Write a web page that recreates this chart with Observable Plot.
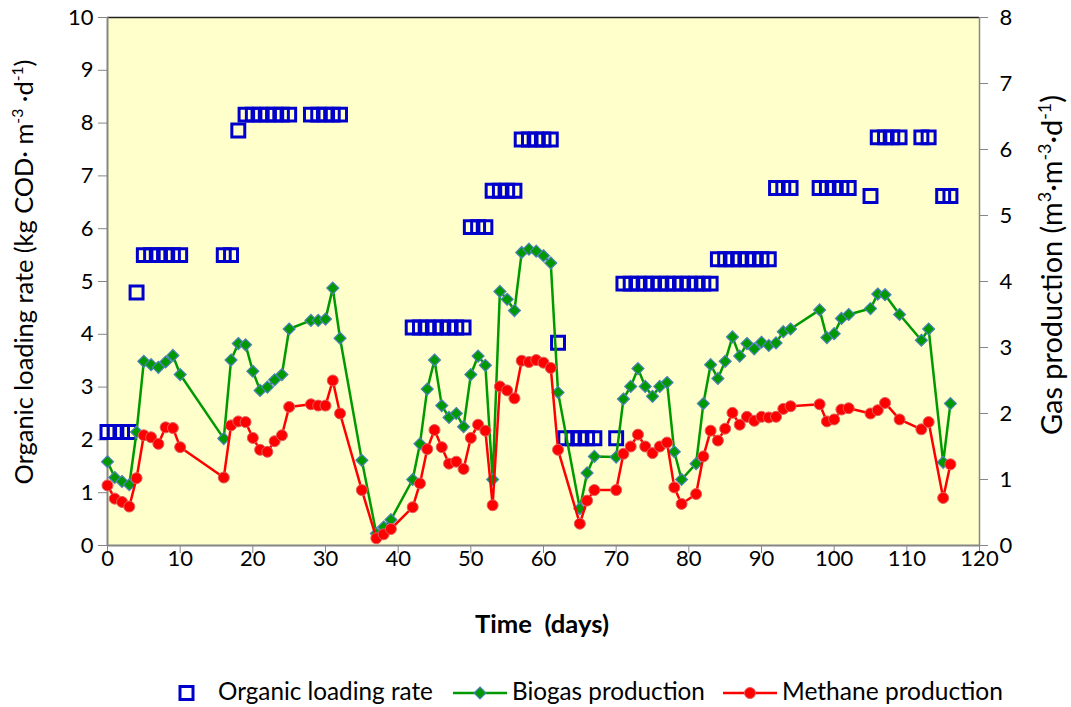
<!DOCTYPE html>
<html><head><meta charset="utf-8">
<script src="https://cdn.jsdelivr.net/npm/d3@7"></script>
<script src="https://cdn.jsdelivr.net/npm/@observablehq/plot@0.6"></script>
<style>
body{margin:0;background:#fff;font-family:Lato, sans-serif;}
#wrap{position:relative;width:1071px;height:707px;overflow:hidden;}
#chart{position:absolute;left:0;top:0;}
#legend{position:absolute;left:0;top:671px;}
</style></head><body><div id="wrap"><div id="chart"></div><div id="legend"></div></div>
<script>
// ---- data ----
const olrDay = [0,1,2,3,4,5,6,7,8,9,10,16,17,18,19,20,21,22,23,24,25,28,29,30,31,32,
  42,43,44,45,46,47,48,49,50,51,52,53,54,55,56,57,58,59,60,61,62,63,64,65,66,67,70,
  71,72,73,74,75,76,77,78,79,80,81,82,83,84,85,86,87,88,89,90,91,92,93,94,
  98,99,100,101,102,105,106,107,108,109,112,113,115,116];
const olrValue = [2.15,2.15,2.15,2.15,4.79,5.5,5.5,5.5,5.5,5.5,5.5,5.5,5.5,7.86,8.16,8.16,8.16,8.16,8.16,8.16,8.16,8.16,8.16,8.16,8.16,8.16,
  4.13,4.13,4.13,4.13,4.13,4.13,4.13,4.13,6.03,6.03,6.03,6.72,6.72,6.72,6.72,7.69,7.69,7.69,7.69,7.69,3.84,2.03,2.03,2.03,2.03,2.03,2.03,
  4.96,4.96,4.96,4.96,4.96,4.96,4.96,4.96,4.96,4.96,4.96,4.96,4.96,5.42,5.42,5.42,5.42,5.42,5.42,5.42,5.42,6.77,6.77,6.77,
  6.77,6.77,6.77,6.77,6.77,6.62,7.73,7.73,7.73,7.73,7.73,7.73,6.62,6.62];
const gasDay = [0,1,2,3,4,5,6,7,8,9,10,16,17,18,19,20,21,22,23,24,25,28,29,30,31,32,35,37,38,39,
  42,43,44,45,46,47,48,49,50,51,52,53,54,55,56,57,58,59,60,61,62,65,66,67,
  70,71,72,73,74,75,76,77,78,79,81,82,83,84,85,86,87,88,89,90,91,92,93,94,
  98,99,100,101,102,105,106,107,109,112,113,115,116];
const biogas = [1.27,1.03,0.97,0.92,1.72,2.79,2.74,2.70,2.78,2.88,2.59,
  1.62,2.81,3.06,3.04,2.64,2.35,2.40,2.51,2.59,3.28,
  3.41,3.41,3.43,3.90,3.14,
  1.29,0.18,0.28,0.39,
  1.00,1.54,2.37,2.81,2.12,1.94,2.00,1.80,2.59,2.87,2.73,1.00,3.85,3.73,3.56,4.44,4.49,4.46,4.39,4.28,2.32,
  0.56,1.10,1.35,
  1.34,2.22,2.41,2.68,2.41,2.26,2.41,2.47,1.42,1.00,
  1.24,2.15,2.74,2.53,2.79,3.16,2.87,3.06,2.98,3.08,3.03,3.07,3.24,3.28,
  3.57,3.15,3.21,3.44,3.50,
  3.59,3.81,3.80,3.50,
  3.11,3.28,1.26,2.15];
const methane = [0.91,0.71,0.66,0.59,1.02,1.67,1.64,1.54,1.79,1.78,1.49,
  1.03,1.82,1.88,1.87,1.63,1.45,1.42,1.58,1.67,2.10,
  2.14,2.12,2.12,2.50,2.00,
  0.84,0.11,0.17,0.25,
  0.58,0.94,1.46,1.75,1.49,1.24,1.27,1.16,1.63,1.83,1.74,0.61,2.41,2.35,2.23,2.80,2.78,2.81,2.77,2.69,1.45,
  0.33,0.68,0.84,
  0.84,1.39,1.50,1.68,1.50,1.40,1.50,1.56,0.88,0.63,
  0.78,1.35,1.74,1.59,1.77,2.01,1.83,1.95,1.89,1.95,1.94,1.95,2.07,2.11,
  2.14,1.88,1.91,2.06,2.08,
  2.00,2.05,2.16,1.91,
  1.76,1.87,0.72,1.23];
const xTicks = [0,10,20,30,40,50,60,70,80,90,100,110,120];
const leftTicks = [0,1,2,3,4,5,6,7,8,9,10];
const rightTicks = [0,1,2,3,4,5,6,7,8];
const leftMax = 10, rightMax = 8;
const K = leftMax / rightMax;

const olrData = olrDay.map((d,i)=>({day:d, v:olrValue[i]}));
const bioData = gasDay.map((d,i)=>({day:d, v:biogas[i]}));
const ch4Data = gasDay.map((d,i)=>({day:d, v:methane[i]}));

const AX = "#868686";
const FONT = "Lato, sans-serif";
const TICKFS = 22;

const chart = Plot.plot({
  width: 1071, height: 650,
  marginTop: 17, marginBottom: 105, marginLeft: 107, marginRight: 92,
  style: {fontFamily: FONT, fontSize: TICKFS + "px", background: "transparent", color: "#000"},
  x: {domain: [0, 120]},
  y: {domain: [0, leftMax]},
  marks: [
    Plot.frame({fill: "#FFFFCC", stroke: null}),
    Plot.ruleY([leftMax], {stroke: "#222", strokeWidth: 1.5}),
    Plot.axisX({ticks: xTicks, tickSize: 8, tickPadding: -3, label: null, stroke: AX, fill: "#000", fontSize: TICKFS}),
    Plot.axisY({ticks: leftTicks, tickSize: 9, tickPadding: 5, label: null, stroke: AX, fill: "#000", fontSize: TICKFS}),
    Plot.axisY(rightTicks.map(v => v*K), {anchor: "right", tickFormat: d => String(Math.round(d/K)), tickSize: 8, tickPadding: 12, label: null, stroke: AX, fill: "#000", fontSize: TICKFS}),
    Plot.ruleX([0], {stroke: AX, strokeWidth: 2}),
    Plot.ruleX([120], {stroke: AX, strokeWidth: 1.5}),
    Plot.ruleY([0], {stroke: AX, strokeWidth: 2}),
    Plot.dot(olrData, {x: "day", y: "v", symbol: "square", r: 7.3, stroke: "#0000CC", strokeWidth: 3, fill: "none"}),
    Plot.line(bioData, {x: "day", y: d => d.v*K, stroke: "#009900", strokeWidth: 2.5}),
    Plot.dot(bioData, {x: "day", y: d => d.v*K, symbol: "diamond2", r: 5.4, fill: "#009900", stroke: "#4F81BD", strokeWidth: 1.2}),
    Plot.line(ch4Data, {x: "day", y: d => d.v*K, stroke: "#FF0000", strokeWidth: 2.5}),
    Plot.dot(ch4Data, {x: "day", y: d => d.v*K, r: 5.5, fill: "#FF0000", stroke: "#E06060", strokeWidth: 1})
  ]
});
document.getElementById("chart").appendChild(chart);

// text fitted to a target length
function fitted(parent, x, y, rot, parts, target, opts={}) {
  const t = parent.append("text")
    .attr("text-anchor", opts.anchor || "middle")
    .attr("font-family", FONT)
    .attr("font-weight", opts.weight || "normal")
    .attr("fill", "#000");
  const spans = parts.map(p => {
    const s = t.append("tspan").text(p.t);
    return {s, p};
  });
  function setSize(fs) {
    t.attr("font-size", fs);
    spans.forEach(({s, p}) => {
      if (p.sup) s.attr("font-size", fs*0.62).attr("dy", -fs*0.38);
      else if (p.down) s.attr("dy", fs*0.38);
    });
  }
  setSize(20);
  const w = t.node().getComputedTextLength();
  setSize(20 * target / w);
  t.attr("transform", `translate(${x},${y}) rotate(${rot})`);
  return t;
}
const svg = d3.select(chart);
fitted(svg, 33, 272, -90, [
  {t: "Organic loading rate (kg COD\u00b7 m"}, {t: "-3", sup: true}, {t: " \u00b7d", down: true}, {t: "-1", sup: true}, {t: ")", down: true}
], 425);
fitted(svg, 1062, 265, -90, [
  {t: "Gas production (m"}, {t: "3", sup: true}, {t: "\u00b7m", down: true}, {t: "-3", sup: true}, {t: "\u00b7d", down: true}, {t: "-1", sup: true}, {t: ")", down: true}
], 340);
fitted(svg, 542, 633, 0, [{t: "Time\u00a0 (days)"}], 134, {weight: "bold"});

// legend
const lg = d3.select("#legend").append("svg").attr("width", 1071).attr("height", 36);
const cy = 22;
lg.append("rect").attr("x", 180).attr("y", cy-6.5).attr("width", 13).attr("height", 13)
  .attr("fill", "none").attr("stroke", "#0000CC").attr("stroke-width", 3);
fitted(lg, 218, cy+7, 0, [{t: "Organic loading rate"}], 215, {anchor: "start"});
lg.append("line").attr("x1", 453).attr("x2", 507).attr("y1", cy).attr("y2", cy).attr("stroke", "#009900").attr("stroke-width", 2.5);
lg.append("path").attr("d", `M480,${cy-6}L486,${cy}L480,${cy+6}L474,${cy}Z`).attr("fill", "#009900").attr("stroke", "#4F81BD").attr("stroke-width", 1.2);
fitted(lg, 512, cy+7, 0, [{t: "Biogas production"}], 193, {anchor: "start"});
lg.append("line").attr("x1", 723).attr("x2", 777).attr("y1", cy).attr("y2", cy).attr("stroke", "#FF0000").attr("stroke-width", 2.5);
lg.append("circle").attr("cx", 750).attr("cy", cy).attr("r", 5.5).attr("fill", "#FF0000").attr("stroke", "#E06060");
fitted(lg, 782, cy+7, 0, [{t: "Methane production"}], 221, {anchor: "start"});
</script></body></html>
